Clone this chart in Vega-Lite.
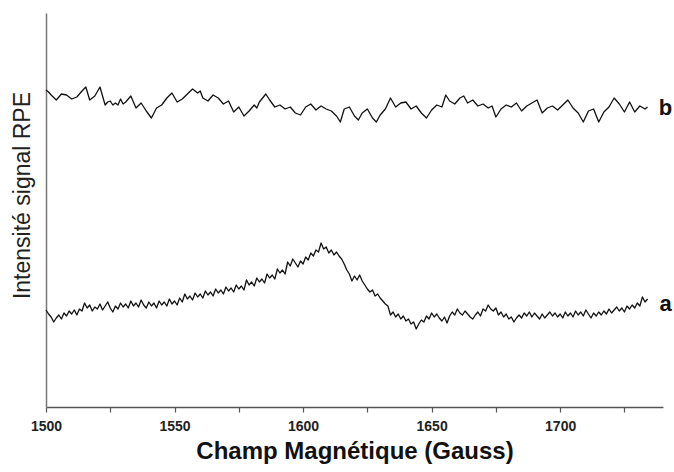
{
  "$schema": "https://vega.github.io/schema/vega-lite/v6.json",
  "autosize": {"type": "none"},
  "width": 617,
  "height": 394,
  "padding": {"left": 46, "top": 13, "right": 11, "bottom": 65},
  "background": "white",
  "config": {"view": {"stroke": null}, "font": "Liberation Sans"},
  "datasets": {
    "a": [
      {"g":1500,"v":97},{"g":1501,"v":93},{"g":1502,"v":90},{"g":1503,"v":85},{"g":1504,"v":89},{"g":1505,"v":92},{"g":1506,"v":88},{"g":1507,"v":94},{"g":1508,"v":91},{"g":1509,"v":96},
      {"g":1510,"v":93},{"g":1511,"v":97},{"g":1512,"v":92},{"g":1513,"v":98},{"g":1514,"v":96},{"g":1515,"v":104},{"g":1516,"v":99},{"g":1517,"v":102},{"g":1518,"v":96},{"g":1519,"v":100},
      {"g":1520,"v":98},{"g":1521,"v":103},{"g":1522,"v":97},{"g":1523,"v":101},{"g":1524,"v":105},{"g":1525,"v":99},{"g":1526,"v":95},{"g":1527,"v":101},{"g":1528,"v":98},{"g":1529,"v":104},
      {"g":1530,"v":100},{"g":1531,"v":103},{"g":1532,"v":99},{"g":1533,"v":106},{"g":1534,"v":101},{"g":1535,"v":104},{"g":1536,"v":100},{"g":1537,"v":107},{"g":1538,"v":102},{"g":1539,"v":99},
      {"g":1540,"v":105},{"g":1541,"v":101},{"g":1542,"v":104},{"g":1543,"v":99},{"g":1544,"v":106},{"g":1545,"v":102},{"g":1546,"v":105},{"g":1547,"v":101},{"g":1548,"v":108},{"g":1549,"v":103},
      {"g":1550,"v":106},{"g":1551,"v":102},{"g":1552,"v":109},{"g":1553,"v":105},{"g":1554,"v":113},{"g":1555,"v":108},{"g":1556,"v":111},{"g":1557,"v":107},{"g":1558,"v":114},{"g":1559,"v":110},
      {"g":1560,"v":113},{"g":1561,"v":109},{"g":1562,"v":116},{"g":1563,"v":112},{"g":1564,"v":115},{"g":1565,"v":111},{"g":1566,"v":118},{"g":1567,"v":114},{"g":1568,"v":117},{"g":1569,"v":113},
      {"g":1570,"v":120},{"g":1571,"v":116},{"g":1572,"v":119},{"g":1573,"v":115},{"g":1574,"v":122},{"g":1575,"v":118},{"g":1576,"v":121},{"g":1577,"v":117},{"g":1578,"v":127},{"g":1579,"v":122},
      {"g":1580,"v":125},{"g":1581,"v":121},{"g":1582,"v":129},{"g":1583,"v":125},{"g":1584,"v":128},{"g":1585,"v":124},{"g":1586,"v":133},{"g":1587,"v":129},{"g":1588,"v":132},{"g":1589,"v":128},
      {"g":1590,"v":138},{"g":1591,"v":134},{"g":1592,"v":137},{"g":1593,"v":133},{"g":1594,"v":145},{"g":1595,"v":141},{"g":1596,"v":148},{"g":1597,"v":144},{"g":1598,"v":140},{"g":1599,"v":146},
      {"g":1600,"v":143},{"g":1601,"v":150},{"g":1602,"v":147},{"g":1603,"v":154},{"g":1604,"v":151},{"g":1605,"v":157},{"g":1606,"v":155},{"g":1607,"v":164},{"g":1608,"v":158},{"g":1609,"v":160},
      {"g":1610,"v":154},{"g":1611,"v":157},{"g":1612,"v":152},{"g":1613,"v":155},{"g":1614,"v":151},{"g":1615,"v":148},{"g":1616,"v":143},{"g":1617,"v":137},{"g":1618,"v":133},{"g":1619,"v":126},
      {"g":1620,"v":131},{"g":1621,"v":127},{"g":1622,"v":132},{"g":1623,"v":126},{"g":1624,"v":122},{"g":1625,"v":118},{"g":1626,"v":115},{"g":1627,"v":117},{"g":1628,"v":111},{"g":1629,"v":113},
      {"g":1630,"v":109},{"g":1631,"v":106},{"g":1632,"v":103},{"g":1633,"v":101},{"g":1634,"v":92},{"g":1635,"v":95},{"g":1636,"v":90},{"g":1637,"v":93},{"g":1638,"v":88},{"g":1639,"v":91},
      {"g":1640,"v":86},{"g":1641,"v":88},{"g":1642,"v":83},{"g":1643,"v":85},{"g":1644,"v":78},{"g":1645,"v":83},{"g":1646,"v":87},{"g":1647,"v":85},{"g":1648,"v":91},{"g":1649,"v":88},
      {"g":1650,"v":94},{"g":1651,"v":90},{"g":1652,"v":93},{"g":1653,"v":89},{"g":1654,"v":86},{"g":1655,"v":90},{"g":1656,"v":84},{"g":1657,"v":91},{"g":1658,"v":95},{"g":1659,"v":92},
      {"g":1660,"v":98},{"g":1661,"v":94},{"g":1662,"v":92},{"g":1663,"v":96},{"g":1664,"v":93},{"g":1665,"v":90},{"g":1666,"v":88},{"g":1667,"v":92},{"g":1668,"v":95},{"g":1669,"v":91},
      {"g":1670,"v":98},{"g":1671,"v":96},{"g":1672,"v":102},{"g":1673,"v":98},{"g":1674,"v":96},{"g":1675,"v":99},{"g":1676,"v":92},{"g":1677,"v":95},{"g":1678,"v":90},{"g":1679,"v":93},
      {"g":1680,"v":88},{"g":1681,"v":90},{"g":1682,"v":85},{"g":1683,"v":89},{"g":1684,"v":92},{"g":1685,"v":89},{"g":1686,"v":94},{"g":1687,"v":91},{"g":1688,"v":95},{"g":1689,"v":90},
      {"g":1690,"v":94},{"g":1691,"v":91},{"g":1692,"v":88},{"g":1693,"v":93},{"g":1694,"v":89},{"g":1695,"v":92},{"g":1696,"v":95},{"g":1697,"v":91},{"g":1698,"v":94},{"g":1699,"v":90},
      {"g":1700,"v":93},{"g":1701,"v":89},{"g":1702,"v":95},{"g":1703,"v":91},{"g":1704,"v":94},{"g":1705,"v":90},{"g":1706,"v":96},{"g":1707,"v":92},{"g":1708,"v":95},{"g":1709,"v":91},
      {"g":1710,"v":97},{"g":1711,"v":93},{"g":1712,"v":89},{"g":1713,"v":94},{"g":1714,"v":91},{"g":1715,"v":95},{"g":1716,"v":92},{"g":1717,"v":96},{"g":1718,"v":93},{"g":1719,"v":98},
      {"g":1720,"v":94},{"g":1721,"v":97},{"g":1722,"v":100},{"g":1723,"v":96},{"g":1724,"v":99},{"g":1725,"v":95},{"g":1726,"v":101},{"g":1727,"v":98},{"g":1728,"v":102},{"g":1729,"v":99},
      {"g":1730,"v":104},{"g":1731,"v":101},{"g":1732,"v":110},{"g":1733,"v":105},{"g":1734,"v":108}
    ],
    "b": [
      {"g":1500,"v":317},{"g":1501,"v":315},{"g":1502,"v":312},{"g":1504,"v":307},{"g":1505,"v":310},{"g":1506,"v":313},{"g":1508,"v":312},{"g":1510,"v":308},{"g":1512,"v":310},{"g":1514,"v":316},{"g":1515.5,"v":320},{"g":1517,"v":307},
      {"g":1519,"v":311},{"g":1521,"v":320},{"g":1523,"v":302},{"g":1524,"v":305},{"g":1525,"v":306},{"g":1526,"v":302},{"g":1527,"v":304},{"g":1528,"v":302},{"g":1529,"v":308},{"g":1530,"v":303},{"g":1531,"v":305},{"g":1533,"v":311},{"g":1535,"v":299},{"g":1537,"v":304},
      {"g":1539,"v":296},{"g":1541,"v":289},{"g":1543,"v":299},{"g":1545,"v":302},{"g":1547,"v":309},{"g":1549,"v":314},{"g":1551,"v":305},{"g":1553,"v":308},{"g":1555,"v":313},{"g":1557,"v":318},
      {"g":1559,"v":314},{"g":1560,"v":316},{"g":1561,"v":309},{"g":1563,"v":306},{"g":1565,"v":312},{"g":1567,"v":309},{"g":1569,"v":303},{"g":1571,"v":306},{"g":1573,"v":295},{"g":1575,"v":300},{"g":1577,"v":291},
      {"g":1579,"v":296},{"g":1581,"v":302},{"g":1582,"v":299},{"g":1583,"v":305},{"g":1585.5,"v":313},{"g":1587,"v":307},{"g":1589,"v":300},{"g":1591,"v":302},{"g":1593,"v":298},{"g":1595,"v":300},{"g":1597,"v":294},
      {"g":1599,"v":292},{"g":1601,"v":300},{"g":1603,"v":303},{"g":1605,"v":297},{"g":1607,"v":301},{"g":1609,"v":298},{"g":1611,"v":296},{"g":1613,"v":291},{"g":1614.5,"v":285},{"g":1616,"v":298},
      {"g":1618,"v":300},{"g":1620,"v":291},{"g":1621.5,"v":287},{"g":1623,"v":294},{"g":1625,"v":298},{"g":1627,"v":289},{"g":1628.5,"v":285},{"g":1630,"v":292},{"g":1632,"v":298},{"g":1634,"v":309},
      {"g":1636,"v":300},{"g":1638,"v":304},{"g":1640,"v":305},{"g":1642,"v":298},{"g":1644,"v":301},{"g":1646,"v":294},{"g":1648,"v":289},{"g":1650,"v":297},{"g":1652,"v":302},{"g":1654,"v":300},
      {"g":1655.5,"v":312},{"g":1657,"v":306},{"g":1659,"v":303},{"g":1661,"v":309},{"g":1662.5,"v":311},{"g":1664,"v":304},{"g":1666,"v":307},{"g":1668,"v":301},{"g":1670,"v":303},{"g":1672,"v":299},
      {"g":1673.5,"v":301},{"g":1675,"v":290},{"g":1677,"v":298},{"g":1679,"v":302},{"g":1681,"v":300},{"g":1683,"v":304},{"g":1685,"v":296},{"g":1687,"v":301},{"g":1689,"v":304},{"g":1691,"v":307},
      {"g":1693,"v":294},{"g":1695,"v":299},{"g":1697,"v":301},{"g":1699,"v":297},{"g":1701,"v":302},{"g":1703,"v":307},{"g":1705,"v":299},{"g":1707,"v":294},{"g":1709,"v":285},{"g":1711,"v":296},
      {"g":1713,"v":298},{"g":1715,"v":285},{"g":1717,"v":295},{"g":1719,"v":300},{"g":1721,"v":309},{"g":1723,"v":303},{"g":1725,"v":295},{"g":1727,"v":305},{"g":1729,"v":295},{"g":1731,"v":301},
      {"g":1733,"v":298},{"g":1734,"v":300}
    ],
    "labels": [{"label": "b", "g": 1741, "v": 299}, {"label": "a", "g": 1741, "v": 103}]
  },
  "layer": [
    {
      "data": {"name": "a"},
      "mark": {"type": "line", "color": "#111111", "strokeWidth": 1.3, "strokeJoin": "round"},
      "encoding": {
        "x": {
          "field": "g", "type": "quantitative",
          "scale": {"domain": [1500, 1740], "nice": false, "zero": false},
          "axis": {
            "values": [1500, 1525, 1550, 1575, 1600, 1625, 1650, 1675, 1700, 1725],
            "labelExpr": "datum.value % 50 === 0 ? datum.label : ''",
            "format": "d",
            "grid": false,
            "domainColor": "#555555", "domainWidth": 1.5,
            "tickColor": "#555555", "tickWidth": 1.2, "tickSize": 5,
            "labelFont": "Liberation Sans", "labelFontSize": 14, "labelFontWeight": "bold", "labelColor": "#222222",
            "labelPadding": 7, "labelFlush": false,
            "title": "Champ Magnétique (Gauss)",
            "titleFont": "Liberation Sans", "titleFontSize": 24, "titleFontWeight": "bold", "titleColor": "#111111",
            "titlePadding": 6
          }
        },
        "y": {
          "field": "v", "type": "quantitative",
          "scale": {"domain": [0, 394], "nice": false, "zero": false},
          "axis": {
            "ticks": false, "labels": false, "grid": false,
            "domainColor": "#777777", "domainWidth": 1.5,
            "title": "Intensité signal RPE",
            "titleFont": "Liberation Sans", "titleFontSize": 23, "titleFontWeight": "normal", "titleColor": "#222222",
            "titlePadding": 12, "titleY": 182
          }
        }
      }
    },
    {
      "data": {"name": "b"},
      "mark": {"type": "line", "color": "#111111", "strokeWidth": 1.3, "strokeJoin": "round"},
      "encoding": {
        "x": {"field": "g", "type": "quantitative"},
        "y": {"field": "v", "type": "quantitative"}
      }
    },
    {
      "data": {"name": "labels"},
      "mark": {"type": "text", "font": "Liberation Sans", "fontSize": 22, "fontWeight": "bold", "color": "#111111", "align": "center", "baseline": "middle"},
      "encoding": {
        "x": {"field": "g", "type": "quantitative"},
        "y": {"field": "v", "type": "quantitative"},
        "text": {"field": "label"}
      }
    }
  ]
}
